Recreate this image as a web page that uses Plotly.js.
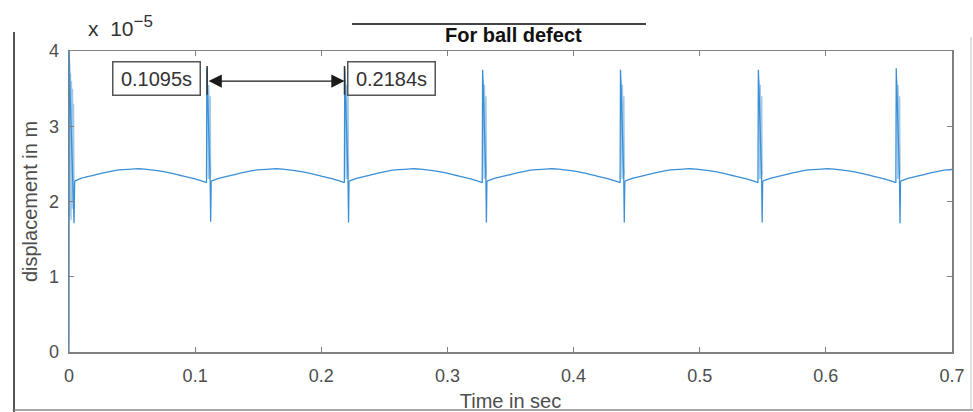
<!DOCTYPE html>
<html>
<head>
<meta charset="utf-8">
<script src="https://cdn.plot.ly/plotly-3.0.1.min.js"></script>
<style>html,body{margin:0;padding:0;background:#fff;}#chart{width:973px;height:412px;}</style>
</head>
<body>
<div id="chart"></div>
<script>
// ---- data (displacement in units of 1e-5 m, time in s) ----
const impactTimes = [0.1093, 0.2186, 0.3279, 0.4372, 0.5465, 0.6558];
const spikeHigh   = [3.77, 3.77, 3.75, 3.75, 3.75, 3.77];
const spikeLow    = [1.73, 1.72, 1.72, 1.72, 1.72, 1.71];
// one arch between impacts: offsets from impact (s) and values
const archOffset = [0.0034, 0.010, 0.020, 0.030, 0.040, 0.050, 0.055, 0.060, 0.070, 0.080, 0.090, 0.100, 0.1090];
const archDisp   = [2.27, 2.31, 2.35, 2.39, 2.42, 2.43, 2.435, 2.43, 2.41, 2.38, 2.34, 2.30, 2.25];
// ringing right after each impact (offsets and values)
const ringOffset = [0.0003, 0.0006, 0.0009, 0.0012, 0.0015, 0.0018, 0.0021, 0.0024, 0.0027, 0.0030];
const ringDisp   = [3.62, 2.35, 3.58, 2.30, 3.55, 2.38, 3.50, 2.30, 3.40, 2.35];
// start-up transient at t = 0
const startTime  = [0, 0.0002, 0.0006, 0.0040, 0.0045];
const startDisp  = [0, 4.00, 3.60, 1.71, 2.27];
const startRingTime = [0.0004, 0.0008, 0.0012, 0.0016, 0.0020, 0.0024, 0.0028, 0.0032, 0.0036, 0.0040];
const startRingDisp = [3.85, 1.80, 3.70, 1.75, 3.60, 1.90, 3.50, 2.00, 3.30, 2.10];
const xTicks = [0, 0.1, 0.2, 0.3, 0.4, 0.5, 0.6, 0.7];
const xTickText = ['0', '0.1', '0.2', '0.3', '0.4', '0.5', '0.6', '0.7'];
const yTicks = [0, 1, 2, 3, 4];
const yTickText = ['0', '1', '2', '3', '4'];
const markTimes = [0.1095, 0.2184];
const markLabels = ['0.1095s', '0.2184s'];
const labelTimes = [0.069, 0.2557];
const labelLevel = 3.63;

// ---- build traces ----
const archX = [], archY = [];
const spikeX = [], spikeY = [];
const ringX = [], ringY = [];
// start segment
startTime.forEach((t, i) => { spikeX.push(t); spikeY.push(startDisp[i]); });
spikeX.push(null); spikeY.push(null);
startRingTime.forEach((t, i) => { ringX.push(t); ringY.push(startRingDisp[i]); });
ringX.push(null); ringY.push(null);
archOffset.forEach((o, i) => {
  archX.push(i === 0 ? startTime[startTime.length - 1] : o); archY.push(archDisp[i]);
});
archX.push(null); archY.push(null);

let prevEnd = { x: archOffset[archOffset.length - 1], y: archDisp[archDisp.length - 1] };
impactTimes.forEach((t, k) => {
  spikeX.push(prevEnd.x, t, t + 0.0004, t + 0.0026, t + 0.0030, t + archOffset[0]);
  spikeY.push(prevEnd.y, spikeHigh[k], 3.55, 2.30, spikeLow[k], archDisp[0]);
  spikeX.push(null); spikeY.push(null);
  ringOffset.forEach((o, i) => { ringX.push(t + o); ringY.push(ringDisp[i]); });
  ringX.push(null); ringY.push(null);
  archOffset.forEach((o, i) => { archX.push(t + o); archY.push(archDisp[i]); });
  archX.push(null); archY.push(null);
  prevEnd = { x: t + archOffset[archOffset.length - 1], y: archDisp[archDisp.length - 1] };
});

const L = 69, R = 21, T = 51, B = 60, W = 973, H = 412;
const pw = W - L - R, ph = H - T - B;
const px = v => (v - L) / pw;
const py = v => (H - B - v) / ph;

const font = 'Liberation Sans, Arial, Helvetica, sans-serif';
const blue = '#3a8fd6';

const traces = [
  { x: ringX, y: ringY, type: 'scatter', mode: 'lines', line: { color: 'rgba(40,130,205,0.45)', width: 1.3 }, hoverinfo: 'skip', showlegend: false },
  { x: archX, y: archY, type: 'scatter', mode: 'lines', line: { color: blue, width: 1.3, shape: 'spline', smoothing: 1 }, connectgaps: false, showlegend: false },
  { x: spikeX, y: spikeY, type: 'scatter', mode: 'lines', line: { color: blue, width: 1.3 }, connectgaps: false, showlegend: false }
];

const annotations = [
  { xref: 'paper', yref: 'paper', x: px(86), y: py(26), xanchor: 'left', yanchor: 'middle', showarrow: false,
    text: 'x&nbsp;&nbsp;10<sup><span style="font-size:17px">−5</span></sup>', font: { family: font, size: 21, color: '#333' } },
  { xref: 'paper', yref: 'paper', x: px(513), y: py(35), xanchor: 'center', yanchor: 'middle', showarrow: false,
    text: '<b>For ball defect</b>', font: { family: font, size: 20, color: '#111' } },
  { xref: 'x', yref: 'y', x: markTimes[1], y: labelLevel - 0.03, ax: markTimes[0], ay: labelLevel - 0.03, axref: 'x', ayref: 'y',
    text: '', showarrow: true, arrowside: 'end+start', arrowhead: 2, startarrowhead: 2, arrowsize: 2.2, startarrowsize: 2.2,
    arrowwidth: 1.2, arrowcolor: '#1a1a1a', standoff: 0, startstandoff: 0 }
];
markLabels.forEach((s, i) => {
  annotations.push({ xref: 'x', yref: 'y', x: labelTimes[i], y: labelLevel, xanchor: 'center', yanchor: 'middle', showarrow: false,
    text: s, font: { family: font, size: 20, color: '#333' }, bordercolor: '#555', borderwidth: 1.5, borderpad: 3,
    bgcolor: '#fff', width: 80, height: 26 });
});

const shapes = [
  { type: 'line', xref: 'paper', yref: 'paper', x0: px(14), x1: px(14), y0: py(32), y1: py(412), line: { color: '#555', width: 2 } },
  { type: 'line', xref: 'paper', yref: 'paper', x0: px(14), x1: px(973), y0: py(410), y1: py(410), line: { color: '#8a8a8a', width: 1.5 } },
  { type: 'line', xref: 'paper', yref: 'paper', x0: px(971), x1: px(971), y0: py(37), y1: py(410), line: { color: '#c4c4c4', width: 1 } },
  { type: 'line', xref: 'paper', yref: 'paper', x0: px(352), x1: px(646), y0: py(24), y1: py(24), line: { color: '#444', width: 2 } }
];
markTimes.forEach(t => {
  shapes.push({ type: 'line', xref: 'x', yref: 'y', x0: t, x1: t, y0: 3.42, y1: 3.80, line: { color: '#333', width: 1.5 } });
});

const axisCommon = {
  showgrid: false, zeroline: false, showline: true, linecolor: '#808080', linewidth: 1.5,
  mirror: 'ticks', ticks: 'inside', ticklen: 5, tickwidth: 1, tickcolor: '#808080',
  tickfont: { family: font, size: 18, color: '#4d4d4d' }, fixedrange: true
};

const layout = {
  width: W, height: H, margin: { l: L, r: R, t: T, b: B, pad: 0 },
  paper_bgcolor: '#fff', plot_bgcolor: '#fff', showlegend: false,
  xaxis: Object.assign({}, axisCommon, { range: [0, 0.7], tickmode: 'array', tickvals: xTicks, ticktext: xTickText,
    ticklabelstandoff: 7,
    title: { text: 'Time in sec', font: { family: font, size: 20, color: '#4d4d4d' }, standoff: 10 } }),
  yaxis: Object.assign({}, axisCommon, { range: [0, 4], tickmode: 'array', tickvals: yTicks, ticktext: yTickText,
    ticklabelstandoff: 5,
    title: { text: 'displacement in m', font: { family: font, size: 20, color: '#4d4d4d' }, standoff: 6 } }),
  annotations: annotations, shapes: shapes
};

Plotly.newPlot('chart', traces, layout, { displayModeBar: false, staticPlot: true });
</script>
</body>
</html>
